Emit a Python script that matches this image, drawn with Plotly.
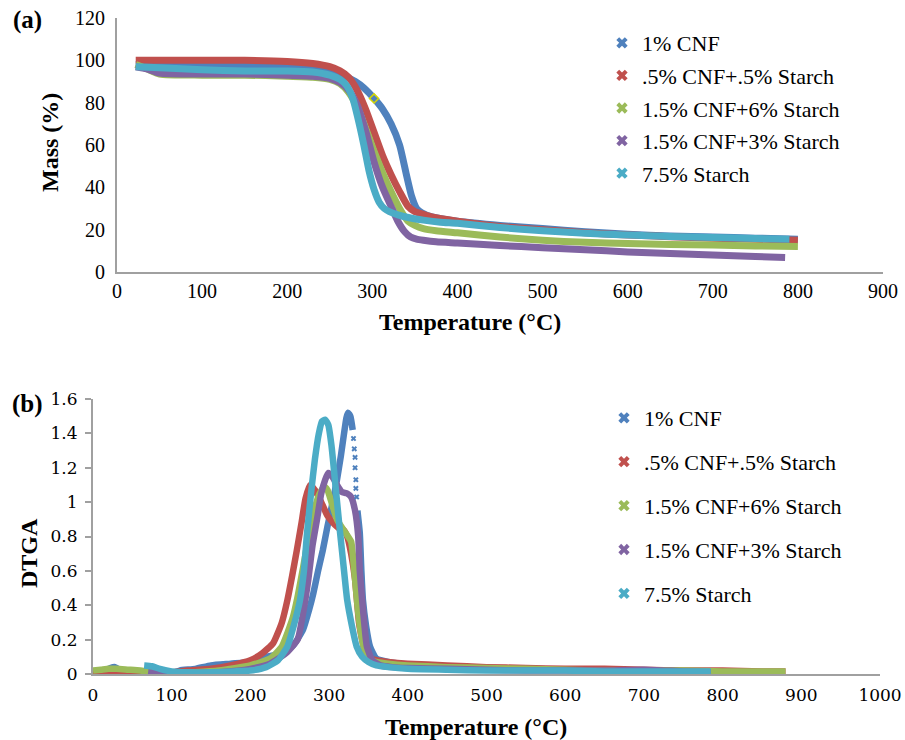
import plotly.graph_objects as go

# ---------------- data ----------------
names = ["1% CNF", ".5% CNF+.5% Starch", "1.5% CNF+6% Starch", "1.5% CNF+3% Starch", "7.5% Starch"]
colors = ["#4F81BD", "#C0504D", "#9BBB59", "#8064A2", "#4BACC6"]

# (a) Mass (%) vs temperature
ta_cnf = [22, 50, 100, 150, 200, 230, 250, 265, 280, 290, 302, 312, 322, 332, 340, 346, 352, 358, 370, 400, 450, 500, 550, 600, 650, 700, 750, 800]
ma_cnf = [98, 98, 98, 98, 97.5, 96.5, 95, 93, 90, 87, 82, 77, 70, 60, 46, 36, 30, 28, 26, 24, 22, 20.5, 19, 17.8, 17, 16.5, 16, 15.5]

ta_red = [22, 50, 100, 150, 200, 230, 250, 262, 272, 282, 292, 302, 312, 322, 332, 342, 350, 358, 370, 400, 450, 500, 550, 600, 650, 700, 750, 800]
ma_red = [100, 100, 100, 100, 99.5, 98.5, 97, 95, 92, 86, 77, 66, 55, 46, 38, 31, 28.5, 27.5, 26, 24, 21.5, 20, 18.5, 17.5, 16.7, 16, 15.5, 15]

ta_grn = [22, 35, 50, 100, 150, 200, 230, 250, 262, 272, 282, 292, 302, 312, 322, 332, 342, 350, 360, 375, 400, 450, 500, 550, 600, 650, 700, 750, 800]
ma_grn = [98, 96, 93.5, 93, 93, 92.5, 92, 91, 89, 85, 78, 68, 57, 47, 38, 30, 24, 22, 20.5, 19.5, 18.5, 16.5, 15, 14, 13.5, 13, 12.7, 12.3, 12]

ta_pur = [22, 35, 50, 100, 150, 200, 230, 250, 262, 272, 282, 292, 302, 312, 322, 330, 338, 345, 352, 360, 375, 400, 450, 500, 550, 600, 650, 700, 750, 785]
ma_pur = [97, 96, 94, 93.5, 93.5, 93, 92.5, 91.5, 89.5, 86, 79, 67, 52, 40, 31, 24, 19, 16.5, 15.5, 15, 14.3, 13.7, 12.5, 11.5, 10.5, 9.5, 8.7, 8, 7.3, 6.8]

ta_cya = [22, 50, 100, 150, 200, 230, 250, 262, 270, 277, 284, 290, 296, 302, 308, 314, 320, 330, 345, 360, 380, 400, 450, 500, 550, 600, 650, 700, 750, 790]
ma_cya = [97, 96.5, 95.5, 95, 95, 94.5, 93, 91, 88, 82, 71, 60, 48, 39, 33, 30, 28.5, 27, 25.5, 24.5, 23.5, 23, 21, 19.5, 18.3, 17.5, 16.8, 16.3, 15.8, 15.5]

marker_a_t = [302]
marker_a_m = [82]

# (b) DTGA vs temperature
tb_cnf = [0, 15, 22, 28, 35, 45, 60, 100, 110, 130, 150, 175, 200, 220, 240, 255, 267, 275, 280, 286, 292, 298, 305, 310, 315, 319, 322, 324, 327, 330,
          None, 336, 339, 341, 343, 347, 352, 360, 375, 400, 450, 500, 550, 600, 650, 700, 750, 800]
db_cnf = [0.01, 0.02, 0.035, 0.04, 0.02, 0.01, 0.0, 0.005, 0.02, 0.03, 0.05, 0.06, 0.07, 0.1, 0.12, 0.17, 0.26, 0.38, 0.47, 0.6, 0.72, 0.86, 1.01, 1.13, 1.27, 1.4, 1.49, 1.52, 1.5, 1.42,
          None, 0.95, 0.82, 0.6, 0.43, 0.28, 0.16, 0.09, 0.07, 0.055, 0.045, 0.035, 0.03, 0.025, 0.02, 0.02, 0.015, 0.015]
tb_cnf_dots = [331, 332, 333, 333, 334, 334, 335]
db_cnf_dots = [1.37, 1.31, 1.26, 1.20, 1.13, 1.08, 1.03]

tb_red = [0, 20, 40, 60, 80, 100, 120, 150, 175, 200, 215, 229, 240, 247, 253, 259, 265, 270, 276, 282, 290, 298, 305, 312, 318, 323, 328, 333, 338, 342, 346, 352, 360, 375, 400, 450, 500, 550, 600, 650, 700, 750, 800, 850, 880]
db_red = [0.0, 0.0, 0.01, 0.01, 0.01, 0.01, 0.02, 0.03, 0.05, 0.08, 0.12, 0.18, 0.3, 0.43, 0.57, 0.72, 0.88, 1.02, 1.10, 1.07, 1.0, 0.92, 0.88, 0.85, 0.84, 0.8, 0.7, 0.55, 0.3, 0.2, 0.12, 0.09, 0.08, 0.07, 0.06, 0.05, 0.04, 0.035, 0.03, 0.03, 0.025, 0.02, 0.02, 0.015, 0.015]

tb_grn = [0, 10, 20, 30, 45, 60, 75, 100, 130, 160, 200, 225, 240, 254, 260, 267, 274, 281, 288, 294, 298, 303, 310, 318, 324, 328, 332, 336, 340, 345, 352, 360, 375, 400, 450, 500, 550, 600, 650, 700, 750, 800, 850, 880]
db_grn = [0.02, 0.025, 0.03, 0.03, 0.025, 0.02, 0.01, 0.005, 0.01, 0.02, 0.05, 0.09, 0.16, 0.33, 0.45, 0.62, 0.8, 0.95, 1.05, 1.09, 1.07, 1.0, 0.9, 0.84, 0.8, 0.77, 0.6, 0.4, 0.25, 0.14, 0.08, 0.07, 0.06, 0.05, 0.04, 0.035, 0.03, 0.025, 0.02, 0.02, 0.02, 0.015, 0.015, 0.015]

tb_pur = [70, 80, 100, 130, 160, 200, 225, 245, 260, 266, 273, 279, 285, 290, 295, 299, 304, 310, 316, 323, 328, 333, 337, 339, 342, 345, 348, 355, 365, 380, 400, 450, 500, 550, 600, 650, 700, 750, 785]
db_pur = [0.01, 0.005, 0.0, 0.005, 0.01, 0.03, 0.06, 0.12, 0.2, 0.33, 0.53, 0.75, 0.91, 1.05, 1.13, 1.17, 1.15, 1.1, 1.06, 1.05, 1.03, 0.95, 0.8, 0.6, 0.43, 0.28, 0.16, 0.08, 0.05, 0.04, 0.035, 0.03, 0.025, 0.02, 0.02, 0.02, 0.025, 0.015, 0.01]

tb_cya = [65, 75, 85, 100, 120, 150, 180, 200, 220, 235, 247, 255, 263, 268, 272, 277, 282, 287, 291, 295, 299, 303, 308, 314, 319, 323, 329, 335, 342, 350, 360, 375, 400, 450, 500, 550, 600, 650, 700, 750, 785]
db_cya = [0.05, 0.045, 0.03, 0.015, 0.01, 0.01, 0.015, 0.02, 0.04, 0.08, 0.16, 0.28, 0.43, 0.6, 0.82, 1.05, 1.25, 1.4, 1.47, 1.48, 1.45, 1.33, 1.1, 0.82, 0.6, 0.43, 0.28, 0.16, 0.1, 0.07, 0.05, 0.04, 0.03, 0.025, 0.02, 0.02, 0.02, 0.015, 0.015, 0.015, 0.015]

xa_ticks = [0, 100, 200, 300, 400, 500, 600, 700, 800, 900]
ya_ticks = [0, 20, 40, 60, 80, 100, 120]
xb_ticks = [0, 100, 200, 300, 400, 500, 600, 700, 800, 900, 1000]
yb_ticks = [0, 0.2, 0.4, 0.6, 0.8, 1, 1.2, 1.4, 1.6]
yb_labels = ["0", "0.2", "0.4", "0.6", "0.8", "1", "1.2", "1.4", "1.6"]

series_a = [(ta_cnf, ma_cnf), (ta_red, ma_red), (ta_grn, ma_grn), (ta_pur, ma_pur), (ta_cya, ma_cya)]
series_b = [(tb_cnf, db_cnf), (tb_red, db_red), (tb_grn, db_grn), (tb_pur, db_pur), (tb_cya, db_cya)]

# ---------------- figure ----------------
W, H = 905, 740
fig = go.Figure()

for i, (t, m) in enumerate(series_a):
    fig.add_trace(go.Scatter(x=t, y=m, mode="lines", line=dict(color=colors[i], width=7, shape="spline", smoothing=0.6),
                             showlegend=False, xaxis="x", yaxis="y", hoverinfo="skip"))
fig.add_trace(go.Scatter(x=marker_a_t, y=marker_a_m, mode="markers",
                         marker=dict(symbol="diamond-open", size=7, color="#D8D800", line=dict(width=1.5)),
                         showlegend=False, xaxis="x", yaxis="y", hoverinfo="skip"))

for i, (t, d) in enumerate(series_b):
    fig.add_trace(go.Scatter(x=t, y=d, mode="lines", line=dict(color=colors[i], width=6.5, shape="spline", smoothing=0.5),
                             connectgaps=False, showlegend=False, xaxis="x2", yaxis="y2", hoverinfo="skip"))
fig.add_trace(go.Scatter(x=tb_cnf_dots, y=db_cnf_dots, mode="markers",
                         marker=dict(symbol="x", size=5, color=colors[0], line=dict(width=0)),
                         showlegend=False, xaxis="x2", yaxis="y2", hoverinfo="skip"))

# legend entries
for i, n in enumerate(names):
    fig.add_trace(go.Scatter(x=[None], y=[None], mode="markers", name=n, legend="legend",
                             legendgroup="a%d" % i,
                             marker=dict(symbol="x", size=10, color=colors[i], line=dict(width=0)),
                             xaxis="x", yaxis="y"))
for i, n in enumerate(names):
    fig.add_trace(go.Scatter(x=[None], y=[None], mode="markers", name=n, legend="legend2",
                             legendgroup="b%d" % i,
                             marker=dict(symbol="x", size=10, color=colors[i], line=dict(width=0)),
                             xaxis="x2", yaxis="y2"))

def px(v):
    return v / W

def py(v):
    return 1 - v / H

serif = "Liberation Serif"
axcol = "#A0A0A0"
tickfont_a = dict(family=serif, size=20, color="black")
tickfont_b = dict(family="DejaVu Serif", size=17, color="black")

fig.update_layout(
    width=W, height=H, autosize=False,
    margin=dict(l=0, r=0, t=0, b=0, pad=0),
    paper_bgcolor="white", plot_bgcolor="white",
    font=dict(family=serif, color="black"),
    showlegend=True,
    xaxis=dict(domain=[px(117), px(883)], range=[0, 900], tickvals=xa_ticks, showgrid=False, zeroline=False,
               showline=True, linecolor=axcol, linewidth=2, ticks="", tickfont=tickfont_a, anchor="y",
               ticklabelstandoff=0, automargin=False),
    yaxis=dict(domain=[py(272), py(18)], range=[0, 120], tickvals=ya_ticks, showgrid=False, zeroline=False,
               showline=True, linecolor=axcol, linewidth=2, ticks="", tickfont=tickfont_a, anchor="x",
               ticklabelstandoff=6, automargin=False),
    xaxis2=dict(domain=[px(93), px(880)], range=[0, 1000], tickvals=xb_ticks, showgrid=False, zeroline=False,
                showline=True, linecolor=axcol, linewidth=2, ticks="", tickfont=tickfont_b, anchor="y2",
                ticklabelstandoff=5, automargin=False),
    yaxis2=dict(domain=[py(674), py(399)], range=[0, 1.6], tickvals=yb_ticks, ticktext=yb_labels, showgrid=False,
                zeroline=False, showline=True, linecolor=axcol, linewidth=2, ticks="outside", ticklen=6,
                tickcolor=axcol, tickwidth=2, tickfont=tickfont_b, anchor="x2", ticklabelstandoff=4,
                automargin=False),
    legend=dict(x=px(602), y=py(22), xanchor="left", yanchor="top", bgcolor="rgba(0,0,0,0)",
                font=dict(family=serif, size=22, color="black"), tracegroupgap=1, itemwidth=30,
                traceorder="grouped"),
    legend2=dict(x=px(604), y=py(397), xanchor="left", yanchor="top", bgcolor="rgba(0,0,0,0)",
                 font=dict(family=serif, size=22, color="black"), tracegroupgap=12.3, itemwidth=30,
                 traceorder="grouped"),
)

bold = dict(family=serif, size=24, color="black")
ann = [
    dict(text="<b>(a)</b>", x=px(27), y=py(20), font=dict(family=serif, size=25, color="black")),
    dict(text="<b>(b)</b>", x=px(27), y=py(404), font=dict(family=serif, size=25, color="black")),
    dict(text="<b>Mass (%)</b>", x=px(50), y=py(143), textangle=-90, font=bold),
    dict(text="<b>Temperature (°C)</b>", x=px(470), y=py(322), font=bold),
    dict(text="<b>DTGA</b>", x=px(29), y=py(553), textangle=-90, font=bold),
    dict(text="<b>Temperature (°C)</b>", x=px(476), y=py(727), font=bold),
]
for a in ann:
    a.update(xref="paper", yref="paper", showarrow=False, xanchor="center", yanchor="middle")
fig.update_layout(annotations=ann)

page_js = (
    "var d=document.documentElement, b=document.body;"
    "d.style.margin='0'; d.style.padding='0'; d.style.overflow='hidden';"
    "b.style.margin='0'; b.style.padding='0'; b.style.overflow='hidden';"
)
fig.write_html("out.html", config={"displayModeBar": False}, post_script=page_js)
